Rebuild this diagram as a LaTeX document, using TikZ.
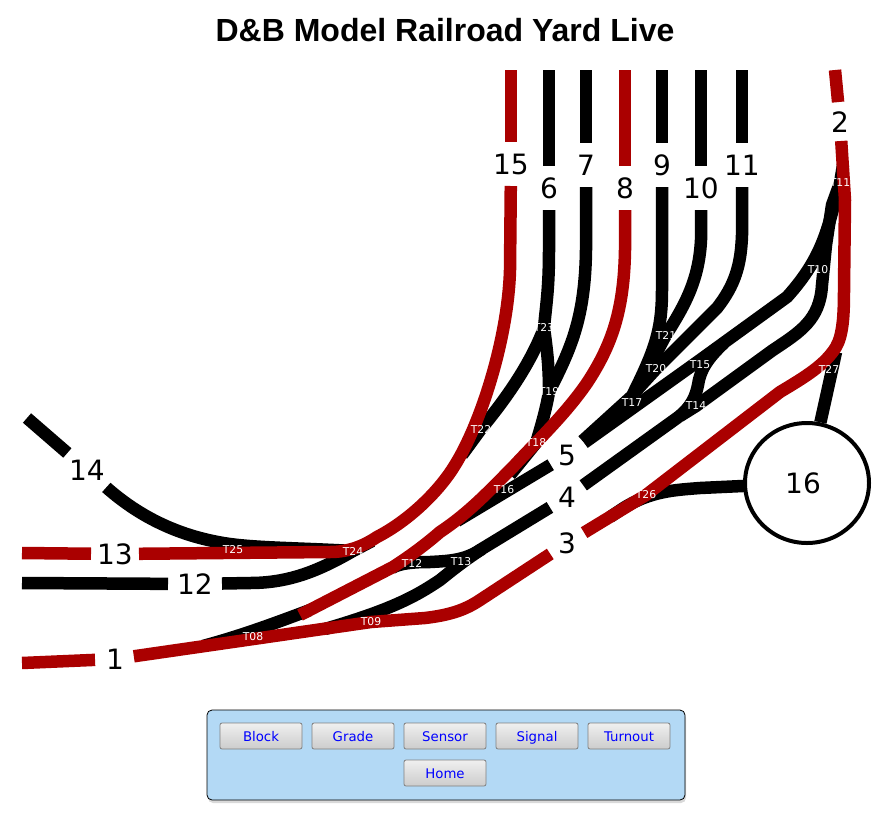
\documentclass[tikz,border=0pt]{standalone}
\usepackage{fontspec}
\usepackage{xcolor}
\usetikzlibrary{shapes,positioning,shadows,backgrounds}
\setmainfont{DejaVu Sans}
\newfontfamily\titlefont{Liberation Sans}
\definecolor{YardRed}{HTML}{AA0000}
\definecolor{YardBlue}{HTML}{0000FF}
\definecolor{PanelBlue}{HTML}{B3D9F5}
\definecolor{ButtonEdge}{HTML}{808080}
\tikzset{
    % Base track style
    basetrack/.style={
        line width=12.5pt,
        line join=round
    },
    % Track that is not occupied
    blacktrack/.style={
        basetrack,
        draw=black
    },
    % Track that is occupied
    redtrack/.style={
        basetrack,
        draw=YardRed
    },
    % Gaps round a block number
    tolabel/.style={shorten >=#1},
    tolabel/.default=22pt,
    fromlabel/.style={shorten <=#1},
    fromlabel/.default=22pt,
    % Block number
    blocknode/.style={
        inner sep=0pt,
        font=\fontsize{28}{30}\selectfont
    },
    % Turnout label
    turnoutnode/.style={
        inner sep=0pt,
        text=white,
        font=\fontsize{10.8}{12}\selectfont
    },
    % Button below the yard
    buttonnode/.style={
        draw=ButtonEdge,
        line width=0.8pt,
        rounded corners=2pt,
        top color=black!6,
        bottom color=black!20,
        text=YardBlue,
        minimum width=82pt,
        minimum height=26pt,
        inner sep=0pt,
        outer sep=0pt,
        text height=10pt,
        text depth=0pt,
        font=\fontsize{13.3}{15}\selectfont
    }
}
\begin{document}
\begin{tikzpicture}[x=1pt, y=-1pt]
        \useasboundingbox (0,0) rectangle (895,820);

        % Title
        \node[font=\titlefont\bfseries\fontsize{32}{34}\selectfont] (title) at (445,30) {D\&B Model Railroad Yard Live};

        % Block numbers
        \node[blocknode] (n1) at (115,659) {1};
        \node[blocknode] (n2) at (840,122) {2};
        \node[blocknode] (n3) at (567,543) {3};
        \node[blocknode] (n4) at (567,497) {4};
        \node[blocknode] (n5) at (567,455) {5};
        \node[blocknode] (n6) at (549,188) {6};
        \node[blocknode] (n7) at (586,165) {7};
        \node[blocknode] (n8) at (625,188) {8};
        \node[blocknode] (n9) at (662,165) {9};
        \node[blocknode] (n10) at (701,188) {10};
        \node[blocknode] (n11) at (742,165) {11};
        \node[blocknode] (n12) at (195,584) {12};
        \node[blocknode] (n13) at (115,554) {13};
        \node[blocknode] (n14) at (87,470) {14};
        \node[blocknode] (n15) at (511,164) {15};
        \node[draw, line width=4pt, fill=white, ellipse, minimum width=124pt, minimum height=120pt, inner sep=0pt, font=\fontsize{28}{30}\selectfont] (n16) at (807,483) {\hspace*{-8pt}16};

        % Free ends of the tracks
        \coordinate (e1) at (22,663);
        \coordinate (e2) at (835,70);
        \coordinate (e6) at (549,70);
        \coordinate (e7) at (586,70);
        \coordinate (e8) at (625,70);
        \coordinate (e9) at (662,70);
        \coordinate (e10) at (701,70);
        \coordinate (e11) at (742,70);
        \coordinate (e12) at (22,583);
        \coordinate (e13) at (22,553);
        \coordinate (e14) at (27,418);
        \coordinate (e15) at (511,70);

        % Points where a black track runs in under a red one
        \coordinate (c08) at (203,646);
        \coordinate (c09) at (325,629);
        \coordinate (c12) at (392,568);
        \coordinate (c13) at (482,549);
        \coordinate (c16) at (457,521);
        \coordinate (c22) at (462,455);
        \coordinate (c24) at (372,541);
        \coordinate (c26) at (610,517);
        \coordinate (c27) at (836,352);

        % Turnouts
        \node[turnoutnode] (T08) at (253,637) {T08};
        \node[turnoutnode] (T09) at (371,622) {T09};
        \node[turnoutnode] (T10) at (818,270) {T10};
        \node[turnoutnode] (T11) at (840,183) {T11};
        \node[turnoutnode] (T12) at (412,563) {T12};
        \node[turnoutnode] (T13) at (461,562) {T13};
        \node[turnoutnode] (T14) at (696,406) {T14};
        \node[turnoutnode] (T15) at (700,365) {T15};
        \node[turnoutnode] (T16) at (504,490) {T16};
        \node[turnoutnode] (T17) at (632,403) {T17};
        \node[turnoutnode] (T18) at (536,443) {T18};
        \node[turnoutnode] (T19) at (549,392) {T19};
        \node[turnoutnode] (T20) at (656,369) {T20};
        \node[turnoutnode] (T21) at (666,335) {T21};
        \node[turnoutnode] (T22) at (481,429) {T22};
        \node[turnoutnode] (T23) at (544,328) {T23};
        \node[turnoutnode] (T24) at (353,551) {T24};
        \node[turnoutnode] (T25) at (233,550) {T25};
        \node[turnoutnode] (T26) at (646,495) {T26};
        \node[turnoutnode] (T27) at (829,369) {T27};

        \begin{scope}[on background layer]
        % Black tracks
        \draw[blacktrack, tolabel] (e6) -- (n6.center);
        \draw[blacktrack, tolabel] (e7) -- (n7.center);
        \draw[blacktrack, tolabel] (e9) -- (n9.center);
        \draw[blacktrack, tolabel] (e10) -- (n10.center);
        \draw[blacktrack, tolabel] (e11) -- (n11.center);
        \draw[blacktrack, tolabel=27pt] (e12) -- (n12.center);
        \draw[blacktrack, tolabel=26pt] (e14) -- (n14.center);

        \draw[blacktrack, fromlabel=26pt] (n14.center) -- (107,488) .. controls (140,517) and (180,537) .. (230,544) .. controls (260,548) and (300,548) .. (T24.center);
        \draw[blacktrack, fromlabel=27pt] (n12.center) -- (250,583) .. controls (290,583) and (320,570) .. (T24.center) -- (c24);
        \draw[blacktrack, fromlabel] (n6.center) -- (549,250) .. controls (549,290) and (546,305) .. (T23.center) .. controls (547,350) and (549,365) .. (T19.center) .. controls (546,410) and (540,430) .. (T18.center) -- (510,475);
        \draw[blacktrack] (T23.center) .. controls (530,365) and (505,400) .. (T22.center) -- (c22);
        \draw[blacktrack, fromlabel] (n7.center) -- (586,250) .. controls (585,320) and (570,350) .. (T19.center);
        \draw[blacktrack, fromlabel, tolabel=21pt] (n9.center) -- (662,290) .. controls (662,330) and (655,350) .. (632,396) -- (n5.center);
        \draw[blacktrack, fromlabel] (n10.center) -- (701,240) .. controls (699,280) and (685,305) .. (T21.center) -- (650,365);
        \draw[blacktrack, fromlabel] (n11.center) -- (742,235) .. controls (741,265) and (735,285) .. (717,308) -- (T20.center) -- (635,392);

        \draw[blacktrack, tolabel=20pt] (c12) .. controls (400,563) and (415,562) .. (430,562) .. controls (450,561) and (465,560) .. (480,550) -- (n4.center);
        \draw[blacktrack] (c13) .. controls (465,560) and (455,568) .. (440,580) .. controls (415,597) and (390,610) .. (c09);
        \draw[blacktrack] (c08) .. controls (240,636) and (270,625) .. (310,610);
        \draw[blacktrack, tolabel=19pt] (c16) -- (n5.center);
        \draw[blacktrack, fromlabel=20pt] (n4.center) -- (677,418) .. controls (692,407) and (696,395) .. (698,385) .. controls (700,370) and (708,358) .. (724,343);
        \draw[blacktrack] (680,416) -- (T14.center) -- (773,350) .. controls (800,332) and (820,320) .. (822,285) -- (826,245) -- (832,205) -- (T11.center) -- (843,165);
        \draw[blacktrack, tolabel=21pt] (T11.center) .. controls (828,225) and (825,255) .. (787,297) -- (700,360) -- (n5.center);
        \draw[blacktrack] (n16) -- (c27);
        \draw[blacktrack] (n16.center) -- (700,488) .. controls (675,490) and (650,491) .. (622,509) -- (c26);

        % Red tracks
        \draw[redtrack, tolabel=20pt] (e1) -- (n1.center);
        \draw[redtrack, fromlabel=19pt, tolabel=20pt] (n1.center) -- (T09.center) -- (425,618) .. controls (450,615) and (465,610) .. (480,600) -- (n3.center);
        \draw[redtrack, fromlabel=20pt, tolabel=19pt] (n3.center) -- (T26.center) -- (780,392) .. controls (805,377) and (825,365) .. (836,347) .. controls (843,335) and (844,315) .. (844,290) -- (845,200) -- (n2.center);
        \draw[redtrack, tolabel=20pt] (e2) -- (n2.center);
        \draw[redtrack, tolabel] (e8) -- (n8.center);
        \draw[redtrack, fromlabel] (n8.center) -- (625,250) .. controls (624,310) and (612,345) .. (587,383) .. controls (565,415) and (535,443) .. (513,467) .. controls (490,490) and (470,512) .. (440,532) .. controls (425,545) and (410,556) .. (393,567) -- (300,615);
        \draw[redtrack, tolabel=24pt] (e13) -- (n13.center);
        \draw[redtrack, fromlabel=24pt, tolabel] (n13.center) -- (330,552) .. controls (350,552) and (365,545) .. (377,537) .. controls (410,520) and (440,490) .. (455,465) .. controls (480,425) and (508,340) .. (510,270) -- (n15.center);
        \draw[redtrack, tolabel] (e15) -- (n15.center);
        \end{scope}

        % Button panel
        \node[draw=black, line width=0.8pt, fill=PanelBlue, rounded corners=5pt, minimum width=478pt, minimum height=90pt, outer sep=0pt, drop shadow={shadow xshift=1pt, shadow yshift=-3pt, opacity=0.3}] (panel) at (446,755) {};
        \node[buttonnode] (bblock) at (261,736) {Block};
        \node[buttonnode, right=10pt of bblock] (bgrade) {Grade};
        \node[buttonnode, right=10pt of bgrade] (bsensor) {Sensor};
        \node[buttonnode, right=10pt of bsensor] (bsignal) {Signal};
        \node[buttonnode, right=10pt of bsignal] (bturnout) {Turnout};
        \node[buttonnode, below=11pt of bsensor] (bhome) {Home};
    \end{tikzpicture}
\end{document}
